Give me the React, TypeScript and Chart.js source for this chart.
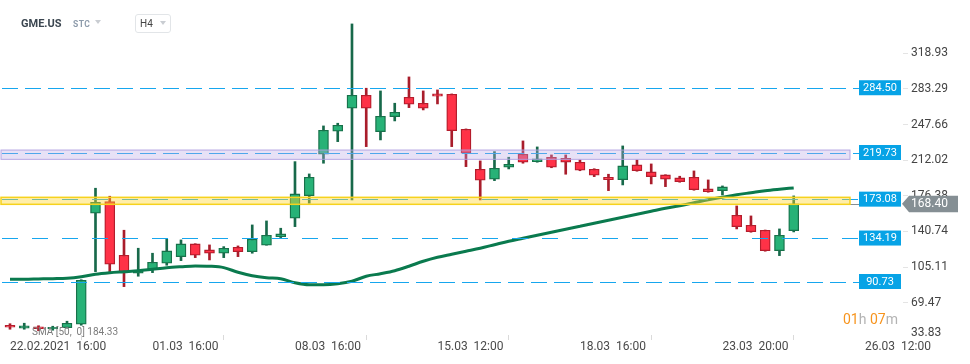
import React, { useEffect, useRef } from 'react';
import { Chart, registerables } from 'chart.js';

Chart.register(...registerables);

// ---- data ----
const OPEN = [47, 44, 45.5, 43.5, 44.5, 48, 159, 170.6, 117, 99, 103.3, 109, 115.6, 128.3, 122.3, 119, 125, 120.6, 127, 135.6,
  154, 176.6, 218, 241, 264, 277, 240.6, 255.6, 275, 269, 278.3, 278, 243, 203, 193, 205, 218, 210.6, 215, 214,
  210, 203, 195, 192.6, 207.3, 200.3, 197.3, 194.3, 195, 183.3, 181.6, 157, 147, 142, 121.6, 141.6];
const HIGH = [48.5, 49, 46.5, 46, 51, 92.5, 184, 176, 142, 124, 119, 133, 132.3, 128.5, 127.3, 125.6, 126.3, 147.3, 151.3, 144,
  210.6, 198.3, 246.3, 249, 348.3, 284, 281.3, 269, 295.3, 281.3, 282.3, 278.3, 243.3, 211.3, 220.6, 215, 231.3, 225.3, 217.3, 217.3,
  212.3, 203.5, 198, 226.3, 212.3, 208.3, 197.5, 196, 201.3, 192.3, 186.3, 166.3, 156.3, 142.2, 143.3, 176.3];
const LOW = [43, 43, 41.5, 42, 44, 47, 100.6, 100.6, 85.6, 96, 99.6, 107, 111.6, 114.6, 112.3, 114.6, 115.6, 119, 127, 134.6,
  145.6, 169, 209, 230.6, 172.3, 225.6, 232.3, 251.3, 264.6, 262.3, 268.3, 225.6, 205.6, 172.3, 191.6, 203.3, 209, 210, 204.5, 198,
  201.5, 195.6, 181.6, 187.3, 201, 188.3, 185.6, 190, 182, 180, 177.3, 143.3, 140, 121, 116.6, 140.3];
const CLOSE = [45, 46.5, 43.5, 45, 49, 92, 170, 108, 100.6, 102, 110, 121.3, 128.3, 117, 119, 124, 120.6, 133, 137, 138.3,
  178.3, 195, 242, 247, 277, 264, 256, 260, 268, 264, 276, 241.6, 219, 192, 204, 208, 210, 213.3, 205, 210,
  202, 197, 192.6, 206.3, 201.6, 195.6, 193, 190.6, 182.6, 180.6, 185.3, 145.6, 140.6, 121.6, 137, 168.4];
const SMA = [93, 93, 93.3, 93.6, 94, 95.5, 98, 99.5, 100.5, 101.5, 103, 104.5, 105.5, 106.3, 106, 104.6, 100, 96.5, 94.5, 93.5,
  89.5, 87.5, 87.5, 88.5, 91, 96, 98.5, 101.5, 106, 111, 115, 118, 121, 124, 127.5, 131, 134, 137, 140, 143,
  146, 149, 152, 155, 158, 161, 164, 166.5, 169.5, 172.5, 175, 177.5, 179.5, 181.5, 183, 184.33];

const X_TICKS = [0, 10, 20, 30, 40, 50, 60];
const X_LABELS = ['22.02.2021  16:00', '01.03  16:00', '08.03  16:00', '15.03  12:00', '18.03  16:00', '23.03  20:00', '26.03  12:00'];
const Y_TICKS = [33.83, 69.47, 105.11, 140.74, 176.38, 212.02, 247.66, 283.29, 318.93];
const LEVELS = [284.5, 219.73, 173.08, 134.19, 90.73];
const LEVEL_DASH_LONG_GAP = [false, false, true, true, false];
const BAND_PURPLE = [212.9, 222.2];
const BAND_YELLOW = [167.9, 174.9];
const CURRENT_PRICE = 168.4;
const SMA_LABEL = 'SMA [50,  0] 184.33';
const SYMBOL = 'GME.US';
const SYMBOL_TYPE = 'STC';
const TIMEFRAME = 'H4';

const GREEN = '#27b277';
const GREEN_BORDER = '#17714a';
const RED = '#ff3247';
const RED_BORDER = '#b51d2c';

const overlayPlugin = {
  id: 'overlay',
  afterDatasetsDraw(chart: any) {
    const { ctx, chartArea, scales } = chart;
    const y = scales.y;
    const right = chartArea.right;
    const lineEnd = right - 44;
    const bandEnd = right - 53;
    ctx.save();

    // current price short line
    const yp = Math.round(y.getPixelForValue(CURRENT_PRICE)) + 0.5;
    ctx.strokeStyle = 'rgba(120,130,135,0.9)';
    ctx.lineWidth = 1;
    ctx.beginPath();
    ctx.moveTo(800, yp);
    ctx.lineTo(lineEnd, yp);
    ctx.stroke();

    // dashed levels
    LEVELS.forEach((lv, i) => {
      const py = Math.round(y.getPixelForValue(lv)) + 0.5;
      ctx.strokeStyle = '#16a6ee';
      ctx.lineWidth = 1;
      ctx.setLineDash(LEVEL_DASH_LONG_GAP[i] ? [16, 14] : [16, 7]);
      ctx.beginPath();
      ctx.moveTo(chartArea.left + 2, py);
      ctx.lineTo(lineEnd, py);
      ctx.stroke();
    });
    ctx.setLineDash([]);

    // bands
    const drawBand = (band: number[], fill: string, stroke: string, lw: number) => {
      const t = y.getPixelForValue(band[1]);
      const b = y.getPixelForValue(band[0]);
      ctx.fillStyle = fill;
      ctx.fillRect(chartArea.left + 1, t, bandEnd - chartArea.left - 1, b - t);
      ctx.strokeStyle = stroke;
      ctx.lineWidth = lw;
      ctx.strokeRect(chartArea.left + 1, t, bandEnd - chartArea.left - 1, b - t);
    };
    drawBand(BAND_PURPLE, 'rgba(185,170,230,0.35)', 'rgba(175,160,225,0.9)', 1);
    drawBand(BAND_YELLOW, 'rgba(255,215,50,0.42)', '#f6d21c', 1.5);

    // level label boxes
    ctx.font = '11px Roboto, sans-serif';
    ctx.textAlign = 'center';
    ctx.textBaseline = 'middle';
    LEVELS.forEach((lv) => {
      const py = y.getPixelForValue(lv);
      ctx.fillStyle = '#07a3e6';
      ctx.fillRect(right - 44, py - 7.5, 42, 15);
      ctx.fillStyle = '#ffffff';
      ctx.fillText(lv.toFixed(2), right - 23, py + 0.5);
    });

    // bottom y label clamped inside area
    const lowest = Y_TICKS[0];
    ctx.font = '12px Roboto, sans-serif';
    ctx.textAlign = 'left';
    ctx.fillStyle = '#444';
    ctx.fillText(lowest.toFixed(2), right + 8, Math.min(y.getPixelForValue(lowest), chartArea.bottom - 2));

    // current price label
    const cy = y.getPixelForValue(CURRENT_PRICE);
    ctx.fillStyle = '#858f94';
    ctx.beginPath();
    ctx.moveTo(right - 1, cy);
    ctx.lineTo(right + 6, cy - 8);
    ctx.lineTo(right + 55, cy - 8);
    ctx.lineTo(right + 55, cy + 8.5);
    ctx.lineTo(right + 6, cy + 8.5);
    ctx.closePath();
    ctx.fill();
    ctx.fillStyle = '#ffffff';
    ctx.font = '12px Roboto, sans-serif';
    ctx.textAlign = 'left';
    ctx.fillText(CURRENT_PRICE.toFixed(2), right + 8, cy + 0.5);
    ctx.restore();
  },
};

export default function App() {
  const ref = useRef<HTMLCanvasElement | null>(null);

  useEffect(() => {
    if (!ref.current) return;
    const up = OPEN.map((o, i) => CLOSE[i] >= o);
    const chart = new Chart(ref.current, {
      type: 'bar',
      data: {
        datasets: [
          {
            type: 'line',
            data: SMA.map((v, i) => ({ x: i, y: v })),
            borderColor: '#0a7a4e',
            borderWidth: 3,
            pointRadius: 0,
            cubicInterpolationMode: 'monotone',
            order: 0,
          } as any,
          {
            data: OPEN.map((o, i) => ({ x: i, y: [o, CLOSE[i]] })),
            backgroundColor: up.map((u) => (u ? GREEN : RED)),
            borderColor: up.map((u) => (u ? GREEN_BORDER : RED_BORDER)),
            borderWidth: 1.3,
            borderSkipped: false,
            barThickness: 10,
            grouped: false,
            order: 1,
          } as any,
          {
            data: OPEN.map((o, i) => ({ x: i, y: [LOW[i], HIGH[i]] })),
            backgroundColor: up.map((u) => (u ? '#17694a' : '#a91d2b')),
            borderWidth: 0,
            barThickness: 2,
            grouped: false,
            order: 2,
          } as any,
        ],
      },
      options: {
        animation: false,
        responsive: false,
        devicePixelRatio: 1,
        layout: { padding: 0 },
        plugins: { legend: { display: false }, tooltip: { enabled: false } },
        font: { family: 'Roboto, sans-serif' },
        scales: {
          x: {
            type: 'linear',
            position: 'bottom',
            min: -0.702,
            max: 62.67,
            offset: false,
            grid: { drawOnChartArea: false, drawTicks: true, tickLength: 5, color: '#dadada' },
            border: { display: false },
            ticks: {
              autoSkip: false,
              maxRotation: 0,
              minRotation: 0,
              align: 'start',
              padding: 0,
              color: '#4a4a4a',
              font: { family: 'Roboto, sans-serif', size: 12 },
              callback: (v: any) => {
                const i = X_TICKS.indexOf(Number(v));
                return i >= 0 ? X_LABELS[i] : '';
              },
            },
            afterBuildTicks: (s: any) => {
              s.ticks = X_TICKS.map((v) => ({ value: v }));
            },
            afterFit: (s: any) => {
              s.height = 29;
              s.paddingLeft = 0;
            },
          },
          y: {
            type: 'linear',
            position: 'right',
            min: 37.23,
            max: 372.23,
            grid: { drawOnChartArea: false, drawTicks: true, tickLength: 5, color: '#e4e4e4' },
            border: { display: false },
            ticks: {
              crossAlign: 'near',
              padding: 3,
              color: '#444',
              font: { family: 'Roboto, sans-serif', size: 12 },
              callback: (v: any) => Number(v).toFixed(2),
            },
            afterBuildTicks: (s: any) => {
              s.ticks = Y_TICKS.filter((v) => v >= 37.23).map((v) => ({ value: v }));
            },
            afterFit: (s: any) => {
              s.width = 67;
              s.paddingTop = 0;
              s.paddingBottom = 0;
            },
          },
        },
      } as any,
      plugins: [overlayPlugin],
    });
    return () => chart.destroy();
  }, []);

  const abs = (extra: React.CSSProperties): React.CSSProperties => ({
    position: 'absolute',
    lineHeight: 1,
    whiteSpace: 'pre',
    pointerEvents: 'none',
    fontFamily: 'Roboto, sans-serif',
    ...extra,
  });

  return (
    <div style={{ position: 'fixed', left: 0, top: 0, width: 970, height: 364, background: '#fff', overflow: 'hidden' }}>
      <canvas ref={ref} width={970} height={364} style={{ display: 'block', width: 970, height: 364 }} />
      <div style={abs({ left: 21, top: 18, fontSize: 11, fontWeight: 'bold', color: '#3b4650' })}>{SYMBOL}</div>
      <div style={abs({ left: 73, top: 20, fontSize: 8.5, letterSpacing: 0.4, fontWeight: 'bold', color: '#8d9bab' })}>{SYMBOL_TYPE}</div>
      <div style={abs({ left: 95, top: 20, width: 0, height: 0, borderLeft: '3.5px solid transparent', borderRight: '3.5px solid transparent', borderTop: '4px solid #c9cdd2' })} />
      <div style={abs({ left: 135, top: 14, width: 34, height: 17, border: '1px solid #e2e5e8', borderRadius: 3 })} />
      <div style={abs({ left: 140, top: 19, fontSize: 10, color: '#444' })}>{TIMEFRAME}</div>
      <div style={abs({ left: 160, top: 21, width: 0, height: 0, borderLeft: '3.5px solid transparent', borderRight: '3.5px solid transparent', borderTop: '4px solid #c9cdd2' })} />
      <div style={abs({ left: 32, top: 326.5, fontSize: 10, color: '#7c7c7c' })}>{SMA_LABEL}</div>
      <div style={abs({ left: 843, top: 312, fontSize: 14, color: '#b3b3b3' })}>
        <span style={{ color: '#f7941d' }}>01</span>h <span style={{ color: '#f7941d' }}>07</span>m
      </div>
    </div>
  );
}
